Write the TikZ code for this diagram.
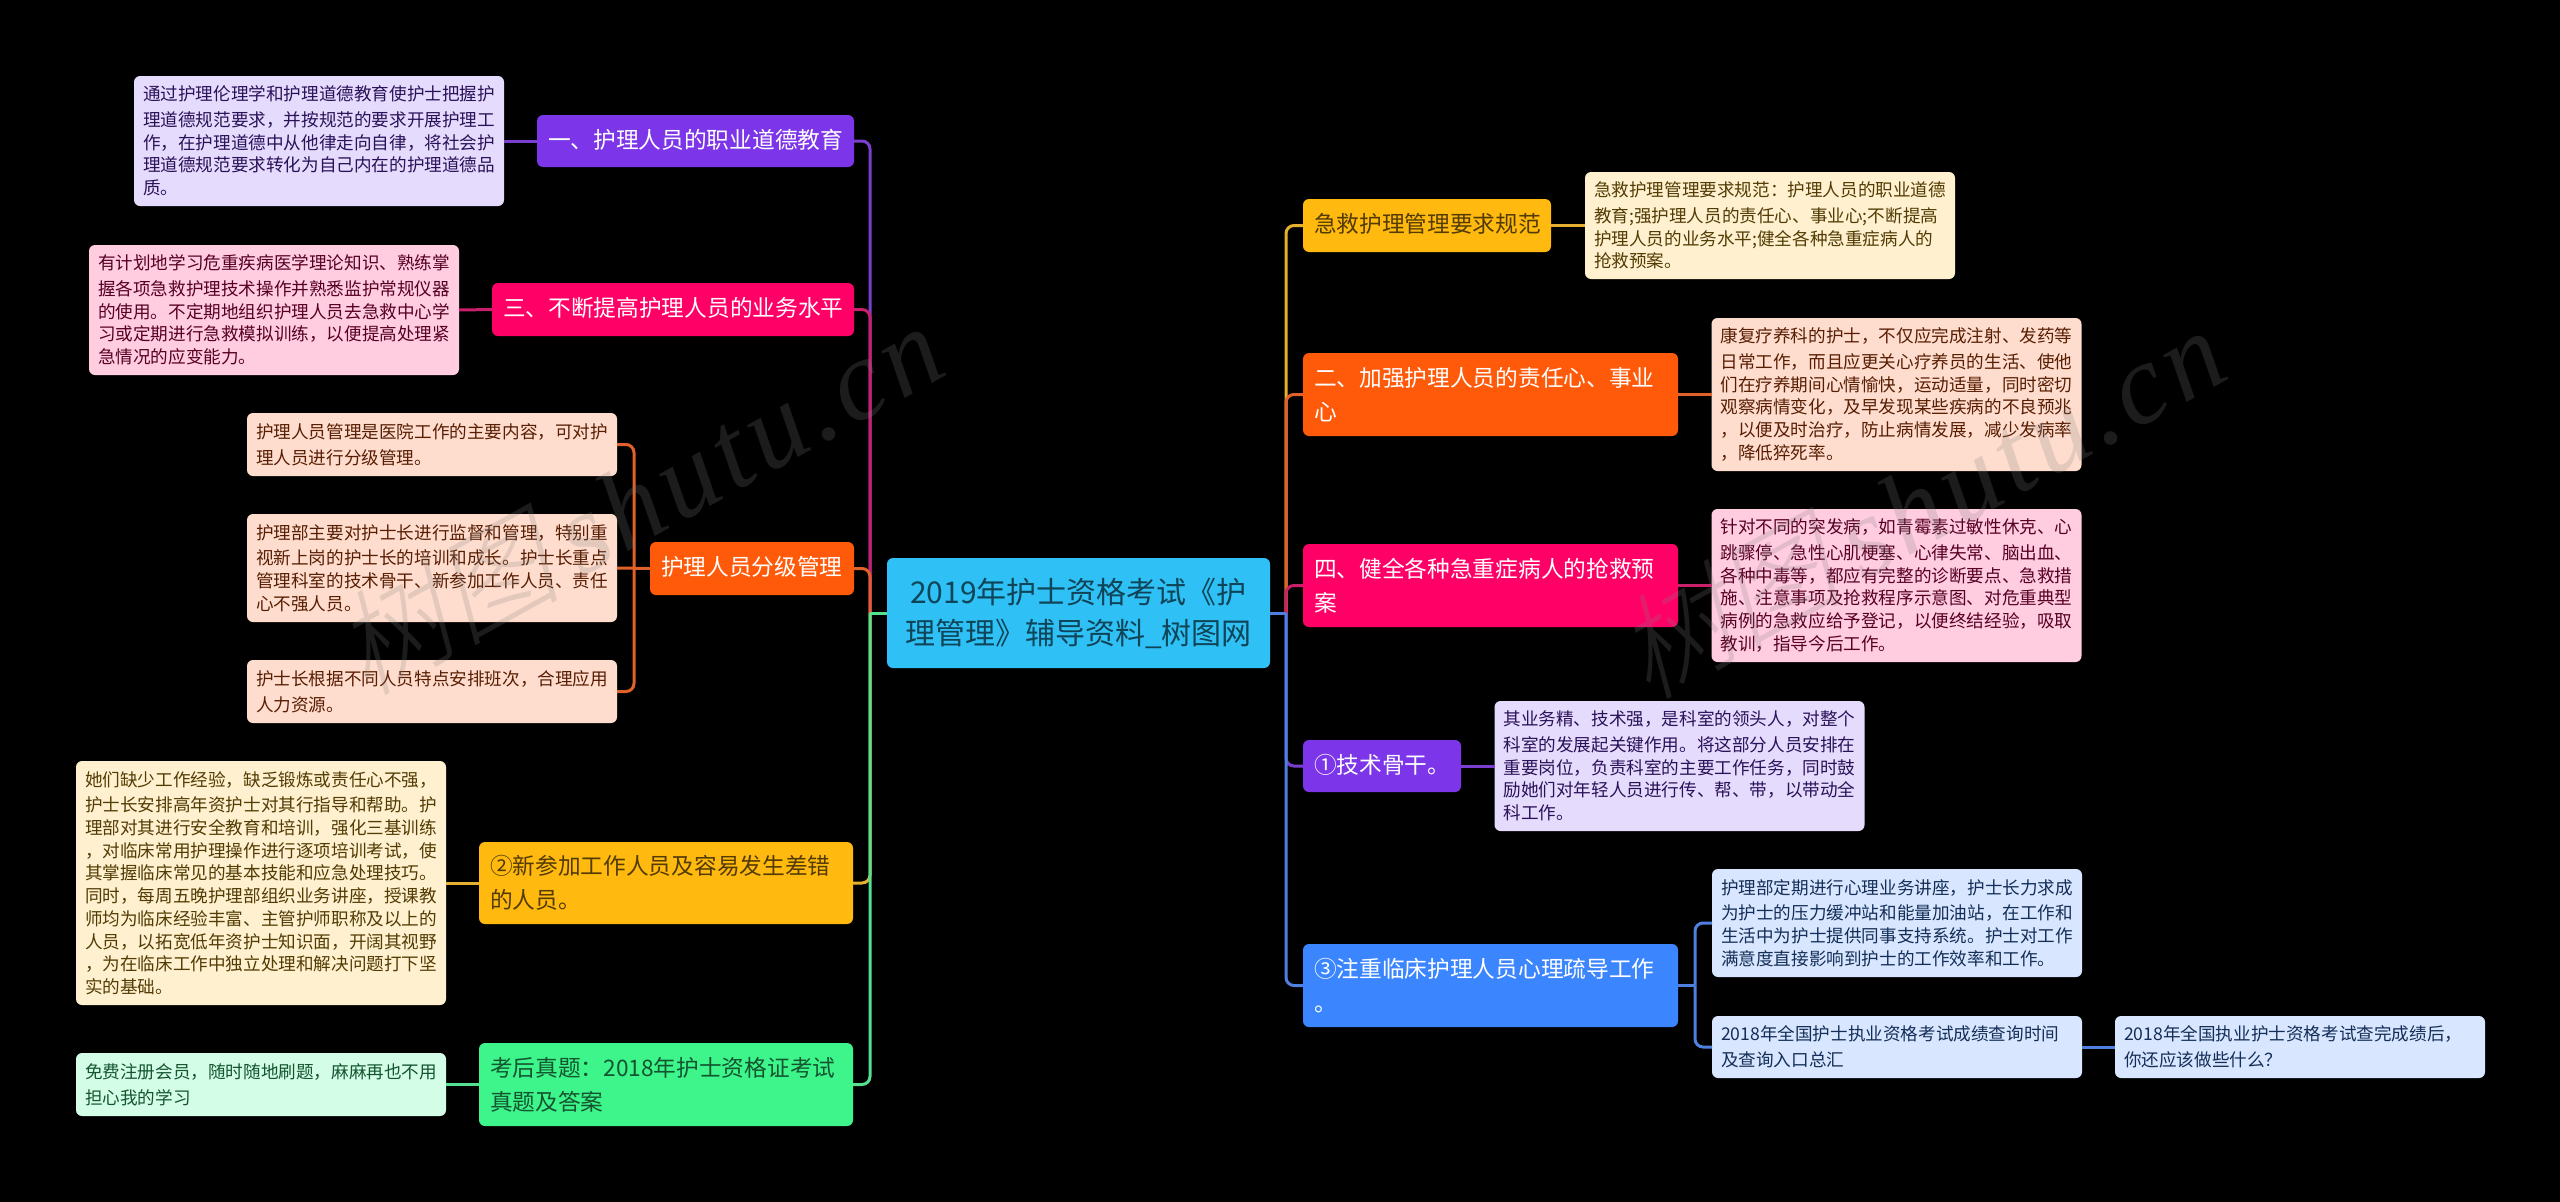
\documentclass[tikz,border=0pt]{standalone}
\usepackage{fontspec}
\setmainfont{Noto Sans CJK SC}
\newfontfamily\markcjk[FakeSlant=0.25]{Noto Sans CJK SC Light}
\newfontfamily\marklatin[LetterSpace=5]{Liberation Serif}

\definecolor{nPurple}{HTML}{7C35E8}
\definecolor{nMagenta}{HTML}{FF0066}
\definecolor{nOrange}{HTML}{FF5A0A}
\definecolor{nAmber}{HTML}{FFB90F}
\definecolor{nGreen}{HTML}{3DF58A}
\definecolor{nBlue}{HTML}{3B86FF}
\definecolor{nRoot}{HTML}{2FC0F5}
\definecolor{lPurple}{HTML}{E5DBFD}
\definecolor{lMagenta}{HTML}{FFCCE0}
\definecolor{lOrange}{HTML}{FFDDCE}
\definecolor{lAmber}{HTML}{FFF1CF}
\definecolor{lGreen}{HTML}{D3FDE6}
\definecolor{lBlue}{HTML}{D8E7FF}
\definecolor{tPurple}{HTML}{2A1259}
\definecolor{tMagenta}{HTML}{570023}
\definecolor{tOrange}{HTML}{571E03}
\definecolor{tAmber}{HTML}{523B04}
\definecolor{tGreen}{HTML}{145530}
\definecolor{tBlue}{HTML}{142E57}
\definecolor{tRoot}{HTML}{0F4558}
\definecolor{wPurple}{HTML}{7B3FD0}
\definecolor{wMagenta}{HTML}{C8206B}
\definecolor{wOrange}{HTML}{E0622A}
\definecolor{wAmber}{HTML}{E5B030}
\definecolor{wGreen}{HTML}{55E08F}
\definecolor{wBlue}{HTML}{4F80E0}

\tikzset{
  leaf/.style 2 args={anchor=north west,rectangle,rounded corners=6pt,fill=#1,text=#2,
    inner xsep=9pt,inner ysep=0pt,outer sep=0pt,minimum width=370pt,text width=352pt,align=left,
    font=\fontsize{17.6pt}{22.7pt}\selectfont,execute at begin node=\vspace*{3pt}},
  branch/.style 2 args={anchor=north west,rectangle,rounded corners=6pt,fill=#1,text=#2,
    inner xsep=11pt,inner ysep=0pt,outer sep=0pt,align=left,
    font=\fontsize{22.7pt}{31.3pt}\selectfont,execute at begin node=\vspace*{3pt}},
  wire/.style={line width=3pt,rounded corners=8pt},
  watermark/.style={text=gray,text opacity=.22,rotate=29,inner sep=0pt}
}

\begin{document}
\begin{tikzpicture}[x=1pt,y=-1pt]
\fill[black] (0,0) rectangle (2560,1202);
\useasboundingbox (0,0) rectangle (2560,1202);

% the centre
\node[anchor=north west,rectangle,rounded corners=6pt,fill=nRoot,text=tRoot,inner sep=0pt,outer sep=0pt,
  minimum width=383pt,minimum height=110pt,text width=383pt,align=center,
  font=\fontsize{30pt}{41pt}\selectfont] (root) at (887,558)
  {2019年护士资格考试《护\\理管理》辅导资料\_树图网};
\coordinate (lJoin) at (870,613);
\coordinate (rJoin) at (1286,613);

% left side, branches
\node[branch={nPurple}{white},minimum width=317pt,minimum height=52pt,text width=295pt] (lEthics) at (537,115) {一、护理人员的职业道德教育};
\node[branch={nMagenta}{white},minimum width=362pt,minimum height=53pt,text width=340pt] (lSkill) at (492,283) {三、不断提高护理人员的业务水平};
\node[branch={nOrange}{white},minimum width=204pt,minimum height=53pt,text width=182pt] (lGrade) at (650,542) {护理人员分级管理};
\node[branch={nAmber}{tAmber},minimum width=374pt,minimum height=82pt,text width=352pt] (lNew) at (479,842) {②新参加工作人员及容易发生差错\\的人员。};
\node[branch={nGreen}{tGreen},minimum width=374pt,minimum height=83pt,text width=352pt] (lExam) at (479,1043) {考后真题：2018年护士资格证考试\\真题及答案};

% left side, leaves
\node[leaf={lPurple}{tPurple},minimum height=130pt] (lEthicsA) at (134,76) {通过护理伦理学和护理道德教育使护士把握护\\理道德规范要求，并按规范的要求开展护理工\\作，在护理道德中从他律走向自律，将社会护\\理道德规范要求转化为自己内在的护理道德品\\质。};
\node[leaf={lMagenta}{tMagenta},minimum height=130pt] (lSkillA) at (89,245) {有计划地学习危重疾病医学理论知识、熟练掌\\握各项急救护理技术操作并熟悉监护常规仪器\\的使用。不定期地组织护理人员去急救中心学\\习或定期进行急救模拟训练，以便提高处理紧\\急情况的应变能力。};
\node[leaf={lOrange}{tOrange},minimum height=63pt] (lGradeA) at (247,413) {护理人员管理是医院工作的主要内容，可对护\\理人员进行分级管理。};
\node[leaf={lOrange}{tOrange},minimum height=108pt] (lGradeB) at (247,514) {护理部主要对护士长进行监督和管理，特别重\\视新上岗的护士长的培训和成长。护士长重点\\管理科室的技术骨干、新参加工作人员、责任\\心不强人员。};
\node[leaf={lOrange}{tOrange},minimum height=63pt] (lGradeC) at (247,660) {护士长根据不同人员特点安排班次，合理应用\\人力资源。};
\node[leaf={lAmber}{tAmber},minimum height=244pt] (lNewA) at (76,761) {她们缺少工作经验，缺乏锻炼或责任心不强，\\护士长安排高年资护士对其行指导和帮助。护\\理部对其进行安全教育和培训，强化三基训练\\，对临床常用护理操作进行逐项培训考试，使\\其掌握临床常见的基本技能和应急处理技巧。\\同时，每周五晚护理部组织业务讲座，授课教\\师均为临床经验丰富、主管护师职称及以上的\\人员，以拓宽低年资护士知识面，开阔其视野\\，为在临床工作中独立处理和解决问题打下坚\\实的基础。};
\node[leaf={lGreen}{tGreen},minimum height=63pt] (lExamA) at (76,1053) {免费注册会员，随时随地刷题，麻麻再也不用\\担心我的学习};

% right side, branches
\node[branch={nAmber}{tAmber},minimum width=248pt,minimum height=53pt,text width=226pt] (rRule) at (1303,199) {急救护理管理要求规范};
\node[branch={nOrange}{white},minimum width=375pt,minimum height=83pt,text width=353pt] (rDuty) at (1303,353) {二、加强护理人员的责任心、事业\\心};
\node[branch={nMagenta}{white},minimum width=375pt,minimum height=83pt,text width=353pt] (rPlan) at (1303,544) {四、健全各种急重症病人的抢救预\\案};
\node[branch={nPurple}{white},minimum width=158pt,minimum height=52pt,text width=136pt] (rCore) at (1303,740) {①技术骨干。};
\node[branch={nBlue}{white},minimum width=375pt,minimum height=83pt,text width=353pt] (rMind) at (1303,944) {③注重临床护理人员心理疏导工作\\。};

% right side, leaves
\node[leaf={lAmber}{tAmber},minimum height=107pt] (rRuleA) at (1585,172) {急救护理管理要求规范：护理人员的职业道德\\教育;强护理人员的责任心、事业心;不断提高\\护理人员的业务水平;健全各种急重症病人的\\抢救预案。};
\node[leaf={lOrange}{tOrange},minimum height=153pt] (rDutyA) at (1711.5,318) {康复疗养科的护士，不仅应完成注射、发药等\\日常工作，而且应更关心疗养员的生活、使他\\们在疗养期间心情愉快，运动适量，同时密切\\观察病情变化，及早发现某些疾病的不良预兆\\，以便及时治疗，防止病情发展，减少发病率\\，降低猝死率。};
\node[leaf={lMagenta}{tMagenta},minimum height=153pt] (rPlanA) at (1711.5,509) {针对不同的突发病，如青霉素过敏性休克、心\\跳骤停、急性心肌梗塞、心律失常、脑出血、\\各种中毒等，都应有完整的诊断要点、急救措\\施、注意事项及抢救程序示意图、对危重典型\\病例的急救应给予登记，以便终结经验，吸取\\教训，指导今后工作。};
\node[leaf={lPurple}{tPurple},minimum height=130pt] (rCoreA) at (1494.5,701) {其业务精、技术强，是科室的领头人，对整个\\科室的发展起关键作用。将这部分人员安排在\\重要岗位，负责科室的主要工作任务，同时鼓\\励她们对年轻人员进行传、帮、带，以带动全\\科工作。};
\node[leaf={lBlue}{tBlue},minimum height=108pt] (rMindA) at (1712,869) {护理部定期进行心理业务讲座，护士长力求成\\为护士的压力缓冲站和能量加油站，在工作和\\生活中为护士提供同事支持系统。护士对工作\\满意度直接影响到护士的工作效率和工作。};
\node[leaf={lBlue}{tBlue},minimum height=62pt] (rMindB) at (1712,1016) {2018年全国护士执业资格考试成绩查询时间\\及查询入口总汇};
\node[leaf={lBlue}{tBlue},minimum height=62pt] (rMindC) at (2115,1016) {2018年全国执业护士资格考试查完成绩后，\\你还应该做些什么？};

% spines, the later one lies on top
\foreach \n/\c in {lEthics/wPurple,lSkill/wMagenta,lGrade/wOrange,lNew/wAmber,lExam/wGreen}
\draw[wire,color=\c] (lJoin) |- (\n.east);
\foreach \n/\c in {rRule/wAmber,rDuty/wOrange,rPlan/wMagenta,rCore/wPurple,rMind/wBlue}
\draw[wire,color=\c] (rJoin) |- (\n.west);
\draw[wire,color=wGreen] (root.west) -- (lJoin);
\draw[wire,color=wBlue] (root.east) -- (rJoin);

% from branch to leaf
\foreach \a/\b/\c in {lEthics/lEthicsA/wPurple,lSkill/lSkillA/wMagenta,lGrade/lGradeB/wOrange,lNew/lNewA/wAmber,lExam/lExamA/wGreen}
\draw[wire,color=\c] (\a.west) -- (\b.east);
\foreach \a/\b/\c in {rRule/rRuleA/wAmber,rDuty/rDutyA/wOrange,rPlan/rPlanA/wMagenta,rCore/rCoreA/wPurple,rMindB/rMindC/wBlue}
\draw[wire,color=\c] (\a.east) -- (\b.west);
\coordinate (gradeFork) at (634,568.5);
\coordinate (mindFork) at (1695,985.5);
\foreach \b in {lGradeA,lGradeC}
\draw[wire,color=wOrange] (gradeFork) |- (\b.east);
\draw[wire,color=wBlue] (rMind.east) -- (mindFork);
\foreach \b in {rMindA,rMindB}
\draw[wire,color=wBlue] (mindFork) |- (\b.west);

% watermarks
\node[watermark] (markL) at (637,497) {\fontsize{114pt}{114pt}\selectfont{\markcjk 树图}\,{\marklatin\itshape shutu.cn}};
\node[watermark] (markR) at (1919,501) {\fontsize{114pt}{114pt}\selectfont{\markcjk 树图}\,{\marklatin\itshape shutu.cn}};
\end{tikzpicture}
\end{document}
